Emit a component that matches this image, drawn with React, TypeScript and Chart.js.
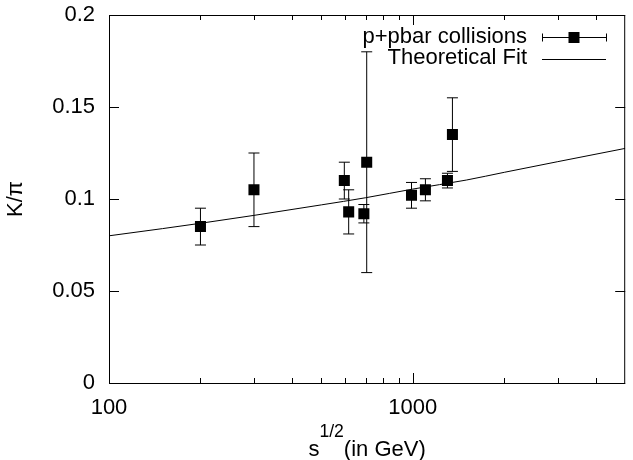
import React, { useEffect, useRef } from 'react';
import { Chart, registerables } from 'chart.js';

Chart.register(...registerables);

// ---- data ----
const energies = [200, 300, 595, 615, 690, 705, 990, 1100, 1300, 1350];
const ratios = [0.085, 0.105, 0.110, 0.093, 0.092, 0.120, 0.102, 0.105, 0.110, 0.135];
const errors = [0.010, 0.020, 0.010, 0.012, 0.005, 0.060, 0.007, 0.006, 0.004, 0.020];

const fitEnergies = [100, 150, 200, 300, 500, 700, 1000, 1500, 2000, 3000, 5000];
const fitRatios = [0.0800, 0.0839, 0.0868, 0.0911, 0.0968, 0.1007, 0.1054, 0.1103, 0.1145, 0.1203, 0.1275];

const xMajorTicks = [100, 1000];
const xTickLabels = ['100', '1000'];
const xMinorTicks = [200, 300, 400, 500, 600, 700, 800, 900, 2000, 3000, 4000];
const yTicks = [0, 0.05, 0.1, 0.15, 0.2];
const yTickLabels = ['0', '0.05', '0.1', '0.15', '0.2'];
const seriesLabels = ['p+pbar collisions', 'Theoretical Fit'];
const xTitleParts = ['s', '1/2', '(in GeV)'];
const yTitle = 'K/\u03C0';

const FONT = '"Liberation Sans", Arial, Helvetica, sans-serif';
const FS = 22;

const gnuplotPlugin = {
  id: 'gnuplotDecor',
  beforeDatasetsDraw(chart: any) {
    const { ctx, scales } = chart;
    const x = scales.x, y = scales.y;
    ctx.save();
    ctx.strokeStyle = '#000';
    ctx.lineWidth = 1;
    energies.forEach((e, i) => {
      const px = x.getPixelForValue(e);
      const top = y.getPixelForValue(ratios[i] + errors[i]);
      const bot = y.getPixelForValue(ratios[i] - errors[i]);
      ctx.beginPath();
      ctx.moveTo(px, top);
      ctx.lineTo(px, bot);
      ctx.moveTo(px - 5.5, top);
      ctx.lineTo(px + 5.5, top);
      ctx.moveTo(px - 5.5, bot);
      ctx.lineTo(px + 5.5, bot);
      ctx.stroke();
    });
    ctx.restore();
  },
  afterDraw(chart: any) {
    const { ctx, chartArea, scales } = chart;
    const x = scales.x, y = scales.y;
    const { left, right, top, bottom } = chartArea;
    ctx.save();
    ctx.strokeStyle = '#000';
    ctx.lineWidth = 1;
    // frame
    ctx.strokeRect(left + 0.5, top + 0.5, right - left - 1, bottom - top);
    // ticks (inward, mirrored)
    ctx.beginPath();
    const xt = (v: number, len: number) => {
      const px = Math.round(x.getPixelForValue(v)) + 0.5;
      ctx.moveTo(px, bottom);
      ctx.lineTo(px, bottom - len);
      ctx.moveTo(px, top);
      ctx.lineTo(px, top + len);
    };
    xMajorTicks.forEach((v) => xt(v, 10));
    xMinorTicks.forEach((v) => xt(v, 5));
    yTicks.forEach((v) => {
      const py = Math.round(y.getPixelForValue(v)) + 0.5;
      ctx.moveTo(left, py);
      ctx.lineTo(left + 10, py);
      ctx.moveTo(right, py);
      ctx.lineTo(right - 10, py);
    });
    ctx.stroke();

    ctx.fillStyle = '#000';
    // x title with superscript
    const mainFont = `${FS}px ${FONT}`;
    const supFont = `${FS * 0.8}px ${FONT}`;
    ctx.font = mainFont;
    const w0 = ctx.measureText(xTitleParts[0]).width;
    const w2 = ctx.measureText(xTitleParts[2]).width;
    ctx.font = supFont;
    const w1 = ctx.measureText(xTitleParts[1]).width;
    const total = w0 + w1 + w2;
    let sx = (left + right) / 2 - total / 2;
    ctx.textAlign = 'left';
    ctx.textBaseline = 'alphabetic';
    ctx.font = mainFont;
    ctx.fillText(xTitleParts[0], sx, 456);
    sx += w0;
    ctx.font = supFont;
    ctx.fillText(xTitleParts[1], sx, 437);
    sx += w1;
    ctx.font = mainFont;
    ctx.fillText(xTitleParts[2], sx, 456);

    // y title
    ctx.save();
    ctx.translate(16, (top + bottom) / 2);
    ctx.rotate(-Math.PI / 2);
    ctx.textAlign = 'center';
    ctx.textBaseline = 'middle';
    ctx.font = mainFont;
    ctx.fillText(yTitle, 0, 0);
    ctx.restore();

    // legend
    ctx.font = mainFont;
    ctx.textAlign = 'right';
    ctx.textBaseline = 'middle';
    ctx.fillText(seriesLabels[0], 527, 37);
    ctx.fillText(seriesLabels[1], 527, 58);
    ctx.beginPath();
    ctx.moveTo(542, 37.5);
    ctx.lineTo(606, 37.5);
    ctx.moveTo(542.5, 33.5);
    ctx.lineTo(542.5, 41.5);
    ctx.moveTo(606.5, 33.5);
    ctx.lineTo(606.5, 41.5);
    ctx.moveTo(542, 59.5);
    ctx.lineTo(606, 59.5);
    ctx.stroke();
    ctx.fillRect(574 - 5.5, 37.5 - 5.5, 11, 11);
    ctx.restore();
  },
};

export default function App() {
  const ref = useRef<HTMLCanvasElement | null>(null);
  useEffect(() => {
    document.body.style.margin = '0';
    const canvas = ref.current;
    if (!canvas) return;
    const chart = new Chart(canvas, {
      type: 'scatter',
      data: {
        datasets: [
          {
            label: seriesLabels[0],
            data: energies.map((e, i) => ({ x: e, y: ratios[i] })),
            pointStyle: 'rect',
            pointRadius: 7.8,
            pointBackgroundColor: '#000',
            pointBorderColor: '#000',
            pointBorderWidth: 0,
            showLine: false,
            order: 0,
          },
          {
            label: seriesLabels[1],
            data: fitEnergies.map((e, i) => ({ x: e, y: fitRatios[i] })),
            showLine: true,
            borderColor: '#000',
            borderWidth: 1,
            pointRadius: 0,
            cubicInterpolationMode: 'monotone',
            order: 1,
          },
        ],
      },
      options: {
        animation: false,
        responsive: false,
        devicePixelRatio: 1,
        layout: { padding: { left: 0, right: 1, top: 15, bottom: 0 } },
        plugins: { legend: { display: false }, tooltip: { enabled: false } },
        scales: {
          x: {
            type: 'logarithmic',
            min: 100,
            max: 5000,
            grid: { display: false, drawTicks: false },
            border: { display: false },
            afterBuildTicks: (s: any) => {
              s.ticks = xMajorTicks.map((v) => ({ value: v }));
            },
            afterFit: (s: any) => {
              s.height = 77;
              s.paddingLeft = 0;
              s.paddingRight = 0;
              s.paddingTop = 0;
              s.paddingBottom = 0;
            },
            ticks: {
              autoSkip: false,
              maxRotation: 0,
              padding: 12,
              color: '#000',
              font: { family: FONT, size: FS },
              callback: (v: any) => {
                const i = xMajorTicks.indexOf(Number(v));
                return i >= 0 ? xTickLabels[i] : '';
              },
            },
          },
          y: {
            type: 'linear',
            min: 0,
            max: 0.2,
            grid: { display: false, drawTicks: false },
            border: { display: false },
            afterBuildTicks: (s: any) => {
              s.ticks = yTicks.map((v) => ({ value: v }));
            },
            afterFit: (s: any) => {
              s.width = 109;
              s.paddingLeft = 0;
              s.paddingRight = 0;
              s.paddingTop = 0;
              s.paddingBottom = 0;
            },
            ticks: {
              autoSkip: false,
              padding: 14,
              color: '#000',
              font: { family: FONT, size: FS },
              callback: (_v: any, i: number) => yTickLabels[i],
            },
          },
        },
      },
      plugins: [gnuplotPlugin],
    } as any);
    return () => chart.destroy();
  }, []);
  return <canvas ref={ref} width={633} height={460} style={{ display: 'block' }} />;
}
